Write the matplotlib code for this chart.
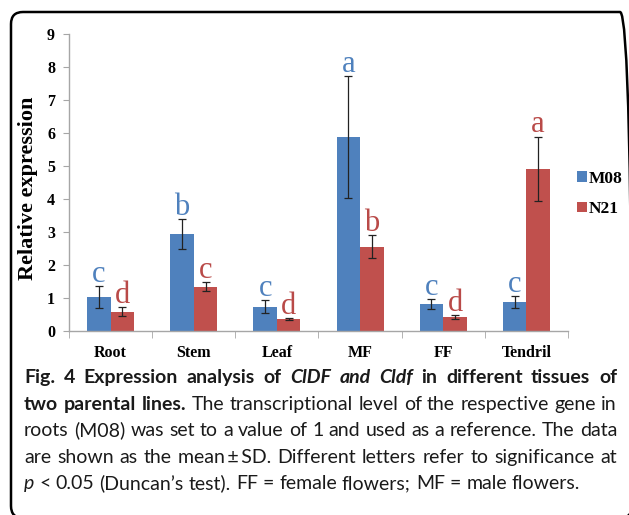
import matplotlib
matplotlib.use('Agg')
import matplotlib.pyplot as plt
from matplotlib.patches import FancyBboxPatch
import numpy as np

# values
tissues = ['Root', 'Stem', 'Leaf', 'MF', 'FF', 'Tendril']
m08 = [1.02, 2.93, 0.74, 5.87, 0.82, 0.88]
m08_sd = [0.33, 0.46, 0.20, 1.85, 0.14, 0.19]
n21 = [0.58, 1.34, 0.36, 2.55, 0.41, 4.91]
n21_sd = [0.14, 0.14, 0.02, 0.35, 0.06, 0.98]
m08_letters = ['c', 'b', 'c', 'a', 'c', 'c']
n21_letters = ['d', 'c', 'd', 'b', 'd', 'a']

caption = [
    [('Fig. 4 Expression analysis of', 'b'), ('ClDF and Cldf', 'bi'), ('in different tissues of', 'b')],
    [('two parental lines.', 'b'), ('The transcriptional level of the respective gene in', 'r')],
    [('roots (M08) was set to a value of 1 and used as a reference. The data', 'r')],
    [('are shown as the mean\u2009±\u2009SD. Different letters refer to significance at', 'r')],
    [('p', 'i'), ('< 0.05 (Duncan\u2019s test). FF = female flowers; MF = male flowers.', 'r')],
]

W, H = 629, 515
fig = plt.figure(figsize=(W / 100, H / 100), dpi=100)
ax = fig.add_axes([69 / W, 1 - 331 / H, (568 - 69) / W, (331 - 34) / H])

serif = 'Liberation Serif'
blue = '#4F81BD'
red = '#C0504D'
axcol = '#A6A6A6'

x = np.arange(len(tissues))
w = 0.283
eb = dict(ecolor='#222222', elinewidth=0.9, capsize=3, capthick=0.9)
b1 = ax.bar(x - w / 2, m08, w, yerr=m08_sd, color=blue, label='M08', error_kw=eb)
b2 = ax.bar(x + w / 2, n21, w, yerr=n21_sd, color=red, label='N21', error_kw=eb)

for xs, vals, sds, lets, col in [(x - w / 2, m08, m08_sd, m08_letters, '#4F81BD'),
                                 (x + w / 2, n21, n21_sd, n21_letters, '#B94A48')]:
    for xi, v, s, l in zip(xs, vals, sds, lets):
        ax.annotate(l, (xi, v + s), xytext=(0, 3), textcoords='offset points',
                    ha='center', va='baseline', fontsize=22, family=serif, color=col)

ax.set_xlim(-0.5, 5.5)
ax.set_ylim(0, 9)
for s in ['top', 'right']:
    ax.spines[s].set_visible(False)
for s in ['left', 'bottom']:
    ax.spines[s].set_color(axcol)
    ax.spines[s].set_linewidth(1)

ax.set_yticks(range(10))
ax.tick_params(axis='y', length=4, color=axcol, pad=6, labelsize=11.5)
ax.set_xticks(x)
ax.set_xticklabels(tissues)
ax.tick_params(axis='x', which='major', length=0, pad=10, labelsize=11.5)
ax.set_xticks(np.arange(-0.5, 6, 1), minor=True)
ax.tick_params(axis='x', which='minor', length=5, color=axcol)
for lab in ax.get_xticklabels() + ax.get_yticklabels():
    lab.set_fontweight('bold')
    lab.set_family(serif)

fig.text(28 / W, 1 - 188 / H, 'Relative expression', rotation=90, ha='center', va='center',
         fontsize=16, weight='bold', family=serif)

ax.legend(handles=[b1, b2], loc='center left', bbox_to_anchor=(577 / W, 1 - 194 / H),
          bbox_transform=fig.transFigure, frameon=False,
          prop={'family': serif, 'weight': 'bold', 'size': 12.5},
          handlelength=0.55, handleheight=0.55, handletextpad=0.15,
          labelspacing=0.85, borderpad=0, borderaxespad=0)

# rounded frame, right and bottom edges fall just outside the canvas
frame = FancyBboxPatch((0.11, -0.03), 6.21, 5.06, boxstyle='round,pad=0,rounding_size=0.12',
                       transform=fig.dpi_scale_trans, fill=False, lw=1.8, ec='black')
fig.add_artist(frame)

# caption, justified like the journal layout
fam = ['Lato', 'DejaVu Sans']
styles = {
    'b': dict(weight='bold', style='normal'),
    'bi': dict(weight='bold', style='italic'),
    'r': dict(weight='normal', style='normal'),
    'i': dict(weight='normal', style='italic'),
}
renderer = fig.canvas.get_renderer()


def measure(s, st, size):
    t = fig.text(0, 0, s, fontsize=size, family=fam, **styles[st])
    wd = t.get_window_extent(renderer).width
    t.remove()
    return wd


def words_of(line):
    out = []
    for seg, st in line:
        for wd in seg.split(' '):
            out.append((wd, st))
    return out


x0, x1 = 24, 617
base_size = 12
nat = []
for line in caption[:-1]:
    ws = words_of(line)
    sp = measure('a a', 'r', base_size) - measure('aa', 'r', base_size)
    nat.append(sum(measure(wd, st, base_size) for wd, st in ws) + sp * (len(ws) - 1))
size = base_size * (x1 - x0) * 0.99 / max(nat)

baselines = [383, 410, 436, 463, 489]
space = measure('a a', 'r', size) - measure('aa', 'r', size)
for i, line in enumerate(caption):
    ws = words_of(line)
    widths = [measure(wd, st, size) for wd, st in ws]
    if i < len(caption) - 1:
        gap = (x1 - x0 - sum(widths)) / (len(ws) - 1)
    else:
        gap = space
    xp = x0
    for (wd, st), wdt in zip(ws, widths):
        fig.text(xp / W, 1 - baselines[i] / H, wd, fontsize=size, family=fam,
                 va='baseline', ha='left', color='#1a1a1a', **styles[st])
        xp += wdt + gap

fig.savefig('out.png', dpi=100)
